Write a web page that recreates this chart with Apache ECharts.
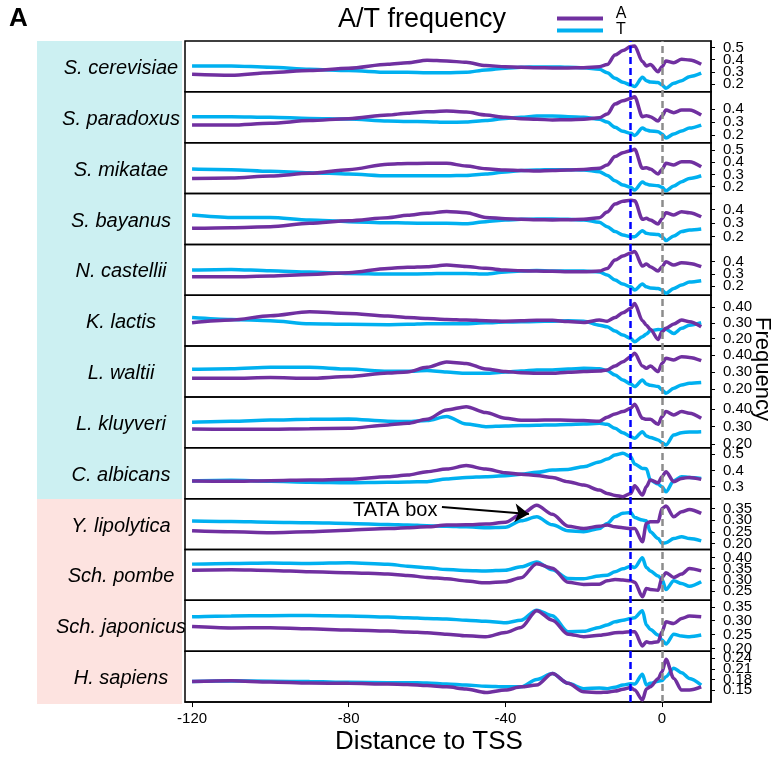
<!DOCTYPE html>
<html>
<head>
<meta charset="utf-8">
<script src="https://cdn.jsdelivr.net/npm/echarts@6.0.0/dist/echarts.min.js"></script>
<style>
  html, body { margin: 0; padding: 0; background: #fff; }
  #myChart { width: 774px; height: 759px; }
</style>
</head>
<body>
<div id="myChart"></div>
<script>
// distance to TSS (bp)
const positions = [-120, -110, -100, -90, -80, -70, -65, -60, -55, -50, -45, -40, -36, -32, -28, -24, -20,
  -16, -14, -12, -10, -8, -7, -5, -4, -3, -1, 0, 1, 3, 5, 7, 10];
const xTicks = [-120, -80, -40, 0];

const species = ["S. cerevisiae", "S. paradoxus", "S. mikatae", "S. bayanus", "N. castellii", "K. lactis",
  "L. waltii", "L. kluyveri", "C. albicans", "Y. lipolytica", "Sch. pombe", "Sch. japonicus", "H. sapiens"];

// A frequency (purple) and T frequency (blue), one pair per species
const cerevisiaeA = [0.279,0.271,0.293,0.310,0.329,0.362,0.375,0.395,0.389,0.378,0.351,0.342,0.337,0.334,0.332,0.332,0.334,0.342,0.359,0.438,0.474,0.507,0.512,0.384,0.348,0.359,0.301,0.342,0.389,0.375,0.403,0.397,0.362];
const cerevisiaeT = [0.348,0.348,0.337,0.321,0.310,0.296,0.296,0.293,0.293,0.296,0.315,0.329,0.337,0.340,0.340,0.337,0.334,0.321,0.293,0.247,0.214,0.192,0.178,0.255,0.227,0.216,0.211,0.192,0.164,0.205,0.227,0.260,0.288];
const paradoxusA = [0.276,0.276,0.289,0.310,0.325,0.353,0.366,0.378,0.383,0.376,0.353,0.335,0.325,0.320,0.315,0.317,0.320,0.332,0.360,0.437,0.462,0.480,0.493,0.340,0.348,0.340,0.307,0.345,0.391,0.371,0.391,0.391,0.353];
const paradoxusT = [0.340,0.340,0.335,0.327,0.322,0.307,0.304,0.302,0.297,0.299,0.310,0.327,0.335,0.345,0.345,0.340,0.335,0.320,0.299,0.259,0.228,0.213,0.197,0.253,0.238,0.231,0.225,0.208,0.177,0.208,0.231,0.253,0.276];
const mikataeA = [0.268,0.271,0.288,0.310,0.340,0.385,0.390,0.392,0.392,0.370,0.347,0.337,0.332,0.329,0.332,0.337,0.342,0.351,0.378,0.447,0.479,0.496,0.507,0.351,0.356,0.345,0.304,0.342,0.392,0.378,0.405,0.405,0.364];
const mikataeT = [0.345,0.340,0.326,0.315,0.304,0.290,0.290,0.290,0.290,0.293,0.304,0.321,0.332,0.337,0.340,0.340,0.337,0.323,0.293,0.249,0.214,0.195,0.173,0.238,0.222,0.214,0.208,0.195,0.167,0.205,0.241,0.268,0.290];
const bayanusA = [0.261,0.266,0.273,0.298,0.317,0.339,0.356,0.371,0.385,0.376,0.341,0.332,0.327,0.324,0.322,0.324,0.327,0.339,0.380,0.439,0.459,0.466,0.463,0.327,0.334,0.322,0.293,0.332,0.376,0.359,0.383,0.376,0.346];
const bayanusT = [0.359,0.341,0.341,0.322,0.310,0.302,0.300,0.298,0.298,0.295,0.310,0.322,0.327,0.329,0.329,0.327,0.322,0.305,0.273,0.237,0.212,0.200,0.200,0.244,0.224,0.220,0.215,0.200,0.171,0.205,0.237,0.249,0.256];
const castelliiA = [0.276,0.276,0.282,0.295,0.309,0.344,0.353,0.358,0.371,0.360,0.345,0.331,0.325,0.322,0.320,0.317,0.317,0.322,0.344,0.412,0.445,0.469,0.482,0.363,0.380,0.358,0.322,0.358,0.398,0.371,0.390,0.385,0.358];
const castelliiT = [0.331,0.336,0.325,0.314,0.303,0.298,0.298,0.300,0.303,0.303,0.298,0.314,0.322,0.328,0.322,0.322,0.322,0.314,0.290,0.249,0.216,0.194,0.167,0.216,0.194,0.184,0.181,0.167,0.140,0.181,0.208,0.233,0.243];
const lactisA = [0.300,0.317,0.344,0.369,0.358,0.342,0.333,0.327,0.321,0.317,0.313,0.310,0.312,0.315,0.315,0.308,0.302,0.317,0.310,0.333,0.363,0.390,0.421,0.313,0.285,0.260,0.196,0.244,0.265,0.292,0.317,0.306,0.275];
const lactisT = [0.333,0.321,0.313,0.294,0.290,0.288,0.290,0.294,0.294,0.294,0.300,0.304,0.306,0.308,0.310,0.312,0.310,0.285,0.275,0.248,0.223,0.202,0.181,0.213,0.229,0.250,0.258,0.256,0.260,0.233,0.265,0.285,0.300];
const waltiiA = [0.264,0.264,0.268,0.264,0.274,0.295,0.301,0.328,0.359,0.351,0.318,0.303,0.297,0.293,0.293,0.299,0.303,0.307,0.313,0.336,0.361,0.390,0.410,0.336,0.322,0.336,0.303,0.351,0.381,0.371,0.390,0.386,0.367];
const waltiiT = [0.317,0.320,0.328,0.328,0.318,0.305,0.305,0.309,0.301,0.293,0.293,0.301,0.307,0.313,0.313,0.318,0.322,0.320,0.309,0.283,0.254,0.231,0.216,0.254,0.231,0.223,0.216,0.196,0.177,0.206,0.225,0.235,0.239];
const kluyveriA = [0.287,0.285,0.285,0.288,0.290,0.310,0.319,0.342,0.396,0.415,0.381,0.348,0.337,0.337,0.338,0.337,0.335,0.331,0.354,0.373,0.387,0.406,0.429,0.348,0.342,0.342,0.313,0.358,0.387,0.367,0.387,0.377,0.348];
const kluyveriT = [0.325,0.331,0.338,0.342,0.344,0.331,0.329,0.335,0.358,0.315,0.300,0.304,0.306,0.308,0.310,0.312,0.315,0.319,0.313,0.290,0.265,0.242,0.233,0.271,0.246,0.238,0.223,0.208,0.194,0.252,0.265,0.269,0.271];
const albicansA = [0.335,0.333,0.337,0.341,0.345,0.361,0.371,0.392,0.408,0.429,0.408,0.386,0.376,0.369,0.357,0.331,0.310,0.280,0.259,0.247,0.239,0.259,0.306,0.249,0.300,0.341,0.324,0.361,0.392,0.331,0.351,0.357,0.345];
const albicansT = [0.335,0.339,0.333,0.327,0.324,0.327,0.329,0.331,0.347,0.357,0.361,0.367,0.376,0.388,0.402,0.406,0.422,0.451,0.469,0.494,0.504,0.484,0.439,0.412,0.410,0.341,0.316,0.300,0.269,0.337,0.361,0.357,0.351];
const lipolyticaA = [0.254,0.250,0.246,0.250,0.257,0.264,0.267,0.271,0.279,0.280,0.283,0.291,0.324,0.364,0.325,0.274,0.264,0.274,0.279,0.271,0.267,0.264,0.264,0.207,0.286,0.293,0.293,0.350,0.360,0.314,0.336,0.346,0.329];
const lipolyticaT = [0.296,0.294,0.291,0.289,0.286,0.281,0.279,0.276,0.274,0.271,0.267,0.269,0.297,0.314,0.280,0.254,0.250,0.264,0.286,0.314,0.329,0.333,0.311,0.300,0.297,0.250,0.221,0.200,0.203,0.221,0.229,0.221,0.211];
const pombeA = [0.343,0.345,0.342,0.336,0.332,0.326,0.320,0.311,0.305,0.295,0.287,0.292,0.309,0.372,0.352,0.289,0.280,0.281,0.296,0.302,0.299,0.296,0.290,0.225,0.262,0.257,0.254,0.311,0.332,0.311,0.326,0.351,0.340];
const pombeT = [0.370,0.373,0.375,0.373,0.376,0.370,0.361,0.354,0.346,0.342,0.340,0.343,0.358,0.380,0.345,0.306,0.305,0.317,0.321,0.336,0.349,0.361,0.355,0.398,0.355,0.340,0.317,0.302,0.257,0.296,0.284,0.272,0.292];
const japonicusA = [0.279,0.274,0.275,0.271,0.267,0.263,0.260,0.257,0.252,0.246,0.243,0.258,0.276,0.336,0.302,0.252,0.243,0.248,0.252,0.257,0.258,0.261,0.261,0.210,0.225,0.221,0.225,0.261,0.296,0.290,0.308,0.317,0.314];
const japonicusT = [0.314,0.317,0.318,0.319,0.317,0.313,0.311,0.308,0.306,0.302,0.298,0.293,0.302,0.338,0.318,0.261,0.262,0.276,0.285,0.296,0.302,0.308,0.311,0.336,0.285,0.269,0.249,0.231,0.217,0.252,0.245,0.243,0.249];
const sapiensA = [0.174,0.176,0.173,0.170,0.169,0.167,0.166,0.163,0.159,0.153,0.143,0.150,0.159,0.164,0.197,0.169,0.145,0.143,0.144,0.147,0.152,0.157,0.150,0.122,0.153,0.159,0.182,0.202,0.237,0.183,0.150,0.150,0.159];
const sapiensT = [0.174,0.176,0.175,0.174,0.172,0.171,0.171,0.170,0.167,0.164,0.161,0.159,0.159,0.180,0.197,0.169,0.154,0.156,0.154,0.158,0.164,0.168,0.167,0.195,0.164,0.169,0.175,0.177,0.188,0.212,0.199,0.183,0.164];

// per panel y range and tick labels (right axis)
const yMin = [0.135, 0.141, 0.144, 0.143, 0.125, 0.154, 0.155, 0.178, 0.227, 0.174, 0.209, 0.191, 0.116];
const yMax = [0.553, 0.530, 0.561, 0.516, 0.540, 0.472, 0.452, 0.471, 0.538, 0.392, 0.435, 0.373, 0.260];
const yTicks = [
  [0.2, 0.3, 0.4, 0.5], [0.2, 0.3, 0.4], [0.2, 0.3, 0.4, 0.5], [0.2, 0.3, 0.4], [0.2, 0.3, 0.4],
  [0.2, 0.3, 0.4], [0.2, 0.3, 0.4], [0.2, 0.3, 0.4], [0.3, 0.4, 0.5],
  [0.2, 0.25, 0.3, 0.35], [0.25, 0.3, 0.35, 0.4], [0.2, 0.25, 0.3, 0.35], [0.15, 0.18, 0.21, 0.24]
];
const yDecimals = [1, 1, 1, 1, 1, 2, 2, 2, 1, 2, 2, 2, 2];

const freqA = [cerevisiaeA, paradoxusA, mikataeA, bayanusA, castelliiA, lactisA, waltiiA, kluyveriA,
  albicansA, lipolyticaA, pombeA, japonicusA, sapiensA];
const freqT = [cerevisiaeT, paradoxusT, mikataeT, bayanusT, castelliiT, lactisT, waltiiT, kluyveriT,
  albicansT, lipolyticaT, pombeT, japonicusT, sapiensT];

const FONT = '"Liberation Sans", Arial, sans-serif';
const PURPLE = "#7030a0";
const BLUE = "#00b0f0";
const xMin = -121.8, xMax = 12.5;
const plotLeft = 185, plotRight = 63, plotTop = 41, panelH = 50.85;

let myChart = echarts.init(document.getElementById("myChart"));

let grid = [], xAxis = [], yAxis = [], series = [], graphic = [];

// right-hand frequency axis; ticks are split over two axes so that the
// closely packed labels are not dropped by the overlap check
function rightAxis(i, values, main) {
  return {
    type: "value", gridIndex: i, position: "right", min: yMin[i], max: yMax[i],
    axisLine: { show: main, onZero: false, lineStyle: { color: "#000", width: 1.5 } },
    splitLine: { show: false },
    axisTick: { show: true, length: 4, customValues: values, lineStyle: { color: "#000", width: 1 } },
    axisLabel: {
      show: true, customValues: values, fontSize: 15, color: "#000", fontFamily: FONT,
      margin: 12, padding: [10, 0, 0, 0], hideOverlap: false,
      formatter: (v) => Number(v).toFixed(yDecimals[i])
    }
  };
}

species.forEach((name, i) => {
  const last = i === species.length - 1;
  grid.push({
    left: plotLeft, right: plotRight, top: plotTop + i * panelH, height: panelH,
    show: true, borderColor: "#000", borderWidth: 1.5, backgroundColor: "transparent"
  });
  xAxis.push({
    type: "value", gridIndex: i, min: xMin, max: xMax,
    axisLine: { show: last, onZero: false, lineStyle: { color: "#000", width: 1.5 } },
    splitLine: { show: false },
    axisTick: { show: last, length: 5, customValues: xTicks, lineStyle: { color: "#000", width: 1 } },
    axisLabel: { show: last, customValues: xTicks, fontSize: 15, color: "#000", fontFamily: FONT, margin: 9, hideOverlap: false }
  });
  const even = yTicks[i].filter((v, k) => k % 2 === 0);
  const odd = yTicks[i].filter((v, k) => k % 2 === 1);
  yAxis.push(rightAxis(i, even, true));
  yAxis.push(rightAxis(i, odd, false));

  series.push({
    name: "T", type: "line", xAxisIndex: i, yAxisIndex: 2 * i,
    data: positions.map((x, k) => [x, freqT[i][k]]),
    showSymbol: false, smooth: 0.3, smoothMonotone: "x",
    lineStyle: { color: BLUE, width: 3.5 }, z: 3
  });
  let purple = {
    name: "A", type: "line", xAxisIndex: i, yAxisIndex: 2 * i,
    data: positions.map((x, k) => [x, freqA[i][k]]),
    showSymbol: false, smooth: 0.3, smoothMonotone: "x",
    lineStyle: { color: PURPLE, width: 3.5 }, z: 4
  };
  if (name === "Y. lipolytica") {
    // arrow pointing to the TATA box peak
    purple.markLine = {
      silent: true, symbol: ["none", "arrow"], symbolSize: 14,
      label: { show: false },
      lineStyle: { color: "#000", width: 2, type: "solid" },
      data: [[{ coord: [-56.2, 0.356] }, { coord: [-34, 0.326] }]]
    };
  }
  series.push(purple);

  // species label, centred over the coloured band
  graphic.push({
    type: "text", x: 121, y: plotTop + i * panelH + panelH / 2 + 2,
    style: { text: name, font: "italic 20px " + FONT, fill: "#000", align: "center", verticalAlign: "middle" },
    z: 10
  });
});

// full-height overlay for the dashed reference lines
const ov = species.length;
grid.push({ left: plotLeft, right: plotRight, top: plotTop, height: panelH * species.length });
xAxis.push({ type: "value", gridIndex: ov, min: xMin, max: xMax, show: false });
yAxis.push({ type: "value", gridIndex: ov, min: 0, max: 1, show: false });
series.push({
  type: "line", xAxisIndex: ov, yAxisIndex: yAxis.length - 1, data: [], z: 5,
  markLine: {
    silent: true, symbol: ["none", "none"], label: { show: false },
    data: [
      { xAxis: -8, lineStyle: { color: "#0000ff", type: [7, 4], width: 2.5 } },
      { xAxis: 0, lineStyle: { color: "#8c8c8c", type: [7, 4], width: 2.5 } }
    ]
  }
});

// coloured label bands
graphic.unshift(
  { type: "rect", shape: { x: 37, y: 41, width: 145, height: 458 }, style: { fill: "#ccf0f2" }, z: 0 },
  { type: "rect", shape: { x: 37, y: 499, width: 145, height: 205 }, style: { fill: "#fde3e0" }, z: 0 }
);

graphic.push(
  { type: "text", x: 9, y: 6, style: { text: "A", font: "bold 26px " + FONT, fill: "#000" } },
  { type: "text", x: 422, y: 20, style: { text: "A/T frequency", font: "27px " + FONT, fill: "#000", align: "center", verticalAlign: "middle" } },
  // legend
  { type: "line", shape: { x1: 557, y1: 18.5, x2: 603, y2: 18.5 }, style: { stroke: PURPLE, lineWidth: 4 } },
  { type: "line", shape: { x1: 557, y1: 30.5, x2: 603, y2: 30.5 }, style: { stroke: BLUE, lineWidth: 4 } },
  { type: "text", x: 621, y: 14, style: { text: "A", font: "16px " + FONT, fill: "#000", align: "center", verticalAlign: "middle" } },
  { type: "text", x: 621, y: 30, style: { text: "T", font: "16px " + FONT, fill: "#000", align: "center", verticalAlign: "middle" } },
  // axis titles
  { type: "text", x: 429, y: 742, style: { text: "Distance to TSS", font: "26px " + FONT, fill: "#000", align: "center", verticalAlign: "middle" } },
  { type: "text", x: 762, y: 369, rotation: -Math.PI / 2,
    style: { text: "Frequency", font: "22px " + FONT, fill: "#000", align: "center", verticalAlign: "middle" } },
  // TATA annotation
  { type: "text", x: 353, y: 510, style: { text: "TATA box", font: "20px " + FONT, fill: "#000", verticalAlign: "middle" }, z: 10 }
);

myChart.setOption({
  animation: false,
  grid: grid,
  xAxis: xAxis,
  yAxis: yAxis,
  series: series,
  graphic: graphic
});
</script>
</body>
</html>
